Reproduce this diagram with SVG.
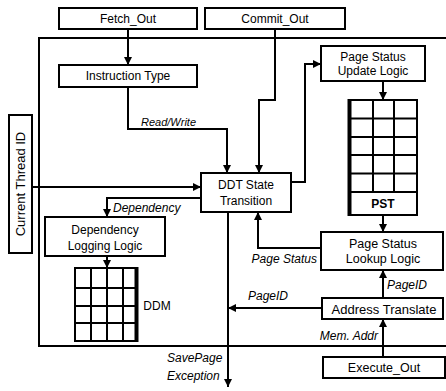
<svg xmlns="http://www.w3.org/2000/svg" width="446" height="391" viewBox="0 0 446 391">
<style>
.box{fill:#fff;stroke:#000;stroke-width:2}
.t{font-family:"Liberation Sans",Arial,sans-serif;font-size:12px;fill:#000;text-anchor:middle}
.lbl{font-family:"Liberation Sans",Arial,sans-serif;font-size:12px;font-style:italic;fill:#000}
.c{fill:none;stroke:#000;stroke-width:2}
.g{fill:none;stroke:#000;stroke-width:2}
</style>
<defs>
<marker id="ah" markerUnits="userSpaceOnUse" markerWidth="10" markerHeight="10" viewBox="0 0 10 10" refX="8" refY="5" orient="auto">
<path d="M0,1 L8,5 L0,9 Z" fill="#000"/>
</marker>
</defs>
<rect x="39" y="38" width="430" height="308" fill="none" stroke="#000" stroke-width="2"/>
<g id="connectors">
<path class="c" d="M128,29 V65" marker-end="url(#ah)"/>
<path class="c" d="M128,87 V129 H227 V173" marker-end="url(#ah)"/>
<path class="c" d="M275,29 V100 H259 V173" marker-end="url(#ah)"/>
<path class="c" d="M32,187 H201" marker-end="url(#ah)"/>
<path class="c" d="M291,182 H305 V64 H321" marker-end="url(#ah)"/>
<path class="c" d="M383,81 V100" marker-end="url(#ah)"/>
<path class="c" d="M383,215 V232" marker-end="url(#ah)"/>
<path class="c" d="M321,248 H258 V212" marker-end="url(#ah)"/>
<path class="c" d="M383,298 V270" marker-end="url(#ah)"/>
<path class="c" d="M322,308 H228" marker-end="url(#ah)"/>
<path class="c" d="M228,212 V387" marker-end="url(#ah)"/>
<path class="c" d="M383,357 V319" marker-end="url(#ah)"/>
<path class="c" d="M201,198 H107 V217" marker-end="url(#ah)"/>
<path class="c" d="M107,256 V268" marker-end="url(#ah)"/>
<text class="lbl" x="141" y="126" style="font-size:11px">Read/Write</text>
<text class="lbl" x="113" y="212">Dependency</text>
<text class="lbl" x="317" y="263" text-anchor="end">Page Status</text>
<text class="lbl" x="387" y="289">PageID</text>
<text class="lbl" x="248" y="300">PageID</text>
<text class="lbl" x="378" y="340" text-anchor="end">Mem. Addr</text>
<text class="lbl" x="167" y="362">SavePage</text>
<text class="lbl" x="167" y="380">Exception</text>
</g>
<g id="fetch_out">
<rect class="box" x="59" y="8" width="138" height="21"/>
<text class="t" x="128" y="23">Fetch_Out</text>
</g>
<g id="commit_out">
<rect class="box" x="205" y="8" width="140" height="21"/>
<text class="t" x="275" y="23">Commit_Out</text>
</g>
<g id="instruction_type">
<rect class="box" x="59" y="65" width="138" height="22"/>
<text class="t" x="128" y="80">Instruction Type</text>
</g>
<g id="current_thread_id">
<rect class="box" x="9" y="115" width="23" height="138"/>
<text class="t" transform="translate(24.5,184) rotate(-90)" x="0" y="0" style="font-size:13px">Current Thread ID</text>
</g>
<g id="ddt_state_transition">
<rect class="box" x="201" y="173" width="90" height="39"/>
<text class="t" x="246" y="189">DDT State</text>
<text class="t" x="246" y="205">Transition</text>
</g>
<g id="page_status_update_logic">
<rect class="box" x="321" y="46" width="104" height="35"/>
<text class="t" x="373" y="61">Page Status</text>
<text class="t" x="373" y="75">Update Logic</text>
</g>
<g id="pst">
<rect x="349" y="100" width="68" height="115" fill="#fff" stroke="#000" stroke-width="2"/>
<path class="g" d="M373,100 V192 M394,100 V192 M349,118.5 H417 M349,137 H417 M349,155 H417 M349,173.5 H417 M349,192 H417"/>
<path d="M349.5,99 V216" stroke="#000" stroke-width="4"/>
<text class="t" x="383" y="208" style="font-weight:bold">PST</text>
</g>
<g id="page_status_lookup_logic">
<rect class="box" x="321" y="232" width="122" height="38"/>
<text class="t" x="383" y="248" style="font-size:12.5px">Page Status</text>
<text class="t" x="383" y="263" style="font-size:12.5px">Lookup Logic</text>
</g>
<g id="address_translate">
<rect class="box" x="322" y="298" width="121" height="21"/>
<text class="t" x="384" y="314" style="font-size:13px">Address Translate</text>
</g>
<g id="execute_out">
<rect class="box" x="323" y="357" width="122" height="21"/>
<text class="t" x="384" y="372" style="font-size:12.5px">Execute_Out</text>
</g>
<g id="dependency_logging_logic">
<rect class="box" x="45" y="217" width="120" height="39"/>
<text class="t" x="105" y="234">Dependency</text>
<text class="t" x="105" y="250">Logging Logic</text>
</g>
<g id="ddm">
<rect x="75" y="268" width="62" height="73" fill="#fff" stroke="#000" stroke-width="2"/>
<path class="g" d="M91,268 V341 M107,268 V341 M123,268 V341 M74,288 H137 M74,306 H137 M74,323 H137"/>
<path d="M136.5,267 V342" stroke="#000" stroke-width="4"/>
<text class="t" x="157" y="310">DDM</text>
</g>
</svg>
